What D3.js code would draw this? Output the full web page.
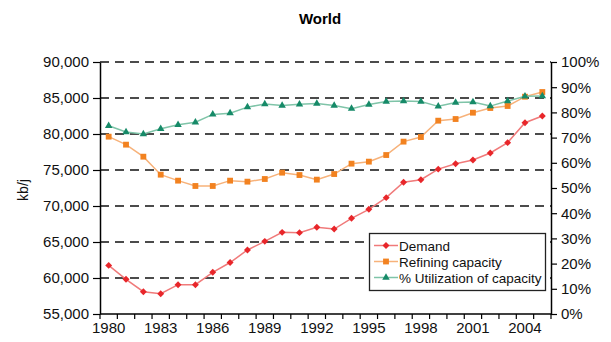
<!DOCTYPE html>
<html>
<head>
<meta charset="utf-8">
<script src="https://cdn.jsdelivr.net/npm/d3@7"></script>
<style>
  html, body { margin: 0; padding: 0; background: #fff; }
  svg { display: block; font-family: "Liberation Sans", Arial, Helvetica, sans-serif; }
</style>
</head>
<body>
<svg id="chart" width="611" height="342"></svg>
<script>
// World oil demand, refining capacity (kb/j) and capacity utilization (%)
const years = [1980, 1981, 1982, 1983, 1984, 1985, 1986, 1987, 1988, 1989,
               1990, 1991, 1992, 1993, 1994, 1995, 1996, 1997, 1998, 1999,
               2000, 2001, 2002, 2003, 2004, 2005];
const demand = [61750, 59820, 58100, 57820, 59070, 59070, 60790, 62150, 63890, 65090,
                66340, 66300, 67040, 66800, 68290, 69540, 71160, 73290, 73650, 75120,
                75880, 76380, 77360, 78800, 81570, 82500];
const refining = [79630, 78520, 76850, 74350, 73520, 72780, 72780, 73520, 73380, 73750,
                  74630, 74300, 73660, 74440, 75880, 76160, 77080, 78940, 79580, 81850,
                  82080, 82960, 83610, 83890, 85180, 85830];
const utilization = [74.7, 72.2, 71.4, 73.5, 75.1, 76.1, 79.2, 79.7, 82.1, 83.3,
                     82.7, 83.2, 83.5, 82.7, 81.5, 83.1, 84.3, 84.5, 84.3, 82.4,
                     83.9, 84.1, 82.5, 84.5, 86.4, 86.5];
const leftTicks = [55000, 60000, 65000, 70000, 75000, 80000, 85000, 90000];
const rightTicks = [0, 10, 20, 30, 40, 50, 60, 70, 80, 90, 100];
const labelYears = [1980, 1983, 1986, 1989, 1992, 1995, 1998, 2001, 2004];
const seriesNames = ["Demand", "Refining capacity", "% Utilization of capacity"];

const svg = d3.select("#chart");
const plot = { left: 100, right: 551, top: 62, bottom: 314 };

const x = d3.scaleBand().domain(years).range([plot.left, plot.right]).padding(0);
const xc = d => x(d) + x.bandwidth() / 2;
const yL = d3.scaleLinear().domain([55000, 90000]).range([plot.bottom, plot.top]);
const yR = d3.scaleLinear().domain([0, 100]).range([plot.bottom, plot.top]);

const fontSize = 15;

// Title
svg.append("text")
  .attr("x", 320).attr("y", 24)
  .attr("text-anchor", "middle")
  .attr("font-weight", "bold")
  .attr("font-size", 15)
  .text("World");

// Horizontal dashed gridlines at left-axis ticks
svg.append("g").selectAll("line")
  .data(leftTicks.filter(t => t > 55000))
  .join("line")
  .attr("x1", plot.left).attr("x2", plot.right)
  .attr("y1", d => yL(d)).attr("y2", d => yL(d))
  .attr("stroke", "#111")
  .attr("stroke-width", 1.3)
  .attr("stroke-dasharray", "9,6");

// Left axis
const leftAxis = svg.append("g")
  .attr("transform", `translate(${plot.left},0)`)
  .call(d3.axisLeft(yL).tickValues(leftTicks).tickSize(7).tickPadding(4)
        .tickFormat(d3.format(",")).tickSizeOuter(0));
// Right axis
const rightAxis = svg.append("g")
  .attr("transform", `translate(${plot.right},0)`)
  .call(d3.axisRight(yR).tickValues(rightTicks).tickSize(6).tickPadding(4)
        .tickFormat(d => d + "%").tickSizeOuter(0));
// Bottom axis: ticks at category boundaries, labels every third year
const xTicks = years.map(d => x(d)).concat([plot.right]);
const bottom = svg.append("g");
bottom.append("line")
  .attr("x1", plot.left).attr("x2", plot.right)
  .attr("y1", plot.bottom).attr("y2", plot.bottom)
  .attr("stroke", "#000").attr("stroke-width", 1.5);
bottom.selectAll("line.tk").data(xTicks).join("line")
  .attr("class", "tk")
  .attr("x1", d => d).attr("x2", d => d)
  .attr("y1", plot.bottom).attr("y2", plot.bottom + 5)
  .attr("stroke", "#000").attr("stroke-width", 1.2);
bottom.selectAll("text").data(labelYears).join("text")
  .attr("x", d => xc(d)).attr("y", 333)
  .attr("text-anchor", "middle")
  .attr("font-size", fontSize)
  .attr("fill", "#111")
  .text(d => d);

[leftAxis, rightAxis].forEach(g => {
  g.select(".domain").attr("stroke", "#000").attr("stroke-width", 1.5);
  g.selectAll(".tick line").attr("stroke", "#000").attr("stroke-width", 1.2);
  g.selectAll(".tick text").attr("font-size", fontSize).attr("fill", "#111")
    .attr("font-family", "'Liberation Sans', Arial, sans-serif");
});

// Y axis title
svg.append("text")
  .attr("transform", "translate(28,190) rotate(-90)")
  .attr("text-anchor", "middle")
  .attr("font-size", 14)
  .attr("fill", "#111")
  .text("kb/j");

// Series
const series = [
  { name: seriesNames[0], values: demand, y: yL, line: "#f07a7a", mark: "#e8262a",
    symbol: d3.symbolSquare, size: 24, rotate: 45 },
  { name: seriesNames[1], values: refining, y: yL, line: "#f7b27a", mark: "#f28220",
    symbol: d3.symbolSquare, size: 34, rotate: 0 },
  { name: seriesNames[2], values: utilization, y: yR, line: "#7fc4a8", mark: "#168a68",
    symbol: d3.symbolTriangle, size: 24, rotate: 0 }
];

series.forEach(s => {
  const pts = years.map((yr, i) => [xc(yr), s.y(s.values[i])]);
  svg.append("path")
    .attr("d", d3.line()(pts))
    .attr("fill", "none")
    .attr("stroke", s.line)
    .attr("stroke-width", 1.5);
  svg.append("g").selectAll("path").data(pts).join("path")
    .attr("transform", d => `translate(${d[0]},${d[1]}) rotate(${s.rotate})`)
    .attr("d", d3.symbol().type(s.symbol).size(s.size))
    .attr("fill", s.mark);
});

// Legend
const lg = svg.append("g");
lg.append("rect")
  .attr("x", 369.5).attr("y", 233.5).attr("width", 176).attr("height", 57)
  .attr("fill", "#fff").attr("stroke", "#222").attr("stroke-width", 1.3);
series.forEach((s, i) => {
  const cy = 245.5 + i * 16;
  lg.append("line")
    .attr("x1", 374).attr("x2", 398).attr("y1", cy).attr("y2", cy)
    .attr("stroke", s.line).attr("stroke-width", 1.5);
  lg.append("path")
    .attr("transform", `translate(386,${cy}) rotate(${s.rotate})`)
    .attr("d", d3.symbol().type(s.symbol).size(s.size))
    .attr("fill", s.mark);
  lg.append("text")
    .attr("x", 399).attr("y", cy + 5)
    .attr("font-size", 13.5)
    .attr("fill", "#111")
    .text(s.name);
});
</script>
</body>
</html>
